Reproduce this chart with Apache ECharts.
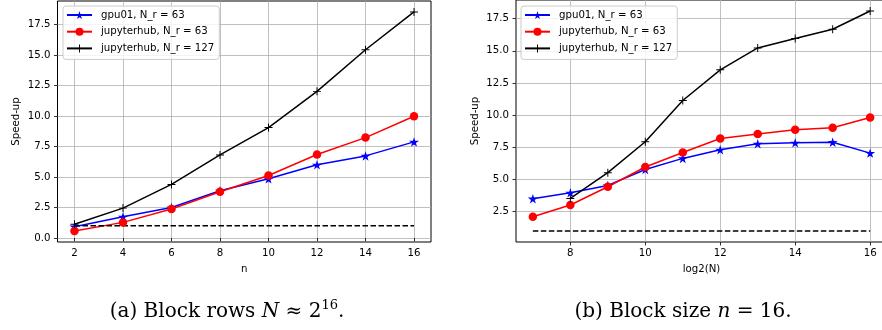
<!DOCTYPE html>
<html>
<head>
<meta charset="utf-8">
<script src="https://cdn.jsdelivr.net/npm/echarts@6/dist/echarts.min.js"></script>
<style>
  html, body { margin: 0; padding: 0; background: #fff; }
  #chart { width: 882px; height: 330px; }
</style>
</head>
<body>
<div id="chart"></div>
<script>
// (a) block rows N ~ 2^16, x = block size n
const nValues = [2, 4, 6, 8, 10, 12, 14, 16]
const gpuLeft = [0.93, 1.74, 2.5, 3.87, 4.85, 6.0, 6.73, 7.88]
const hub63Left = [0.57, 1.28, 2.37, 3.79, 5.12, 6.84, 8.23, 9.98]
const hub127Left = [1.12, 2.45, 4.39, 6.81, 9.05, 12.02, 15.43, 18.53]

// (b) block size n = 16, x = log2(N)
const logN = [7, 8, 9, 10, 11, 12, 13, 14, 15, 16]
const gpuRight = [3.51, 3.97, 4.54, 5.78, 6.64, 7.31, 7.78, 7.85, 7.9, 7.05]
const hub63Right = [2.11, 3.02, 4.44, 5.97, 7.1, 8.19, 8.53, 8.86, 9.02, 9.82]
const logN127 = [8, 9, 10, 11, 12, 13, 14, 15, 16]
const hub127Right = [3.53, 5.53, 7.93, 11.14, 13.52, 15.22, 15.95, 16.67, 18.09]

const baseline = 1

// tick labels
const xTicksLeft = [2, 4, 6, 8, 10, 12, 14, 16]
const yTicksLeft = [0, 2.5, 5, 7.5, 10, 12.5, 15, 17.5]
const xTicksRight = [8, 10, 12, 14, 16]
const yTicksRight = [2.5, 5, 7.5, 10, 12.5, 15, 17.5]

const seriesNames = ['gpu01, N_r = 63', 'jupyterhub, N_r = 63', 'jupyterhub, N_r = 127']

const STAR = 'path://M50,0 L61,35 L98,35 L68,57 L79,91 L50,70 L21,91 L32,57 L2,35 L39,35 Z'
const PLUS = 'path://M0,44 L100,44 L100,56 L0,56 Z M44,0 L56,0 L56,100 L44,100 Z'
const FONT = 'DejaVu Sans'

// matplotlib-like 5% margins
function padExtent (values) {
  let lo = Math.min(...values)
  let hi = Math.max(...values)
  let p = (hi - lo) * 0.05
  return [lo - p, hi + p]
}

const zip = (xs, ys) => xs.map((x, i) => [x, ys[i]])

function valueAxis (gridIndex, ext, ticks, interval, fmt, name, nameGap, isY) {
  return {
    type: 'value',
    gridIndex: gridIndex,
    min: ext[0],
    max: ext[1],
    interval: interval,
    name: name,
    nameLocation: 'middle',
    nameGap: nameGap,
    nameRotate: isY ? 90 : 0,
    nameTextStyle: { fontFamily: FONT, fontSize: 10.2, color: '#000' },
    axisLine: { show: false },
    axisTick: { show: true, customValues: ticks, length: 3.5, lineStyle: { color: '#000', width: 0.8 } },
    axisLabel: {
      customValues: ticks,
      formatter: fmt,
      margin: isY ? 7 : 6,
      fontFamily: FONT,
      fontSize: 10.2,
      color: '#000'
    },
    splitLine: { show: true, lineStyle: { color: '#b0b0b0', width: 0.8 } }
  }
}

function lineSeries (name, data, idx, color, symbol, size) {
  return {
    type: 'line',
    name: name,
    data: data,
    xAxisIndex: idx,
    yAxisIndex: idx,
    color: color,
    symbol: symbol,
    symbolSize: size,
    symbolKeepAspect: true,
    showAllSymbol: true,
    lineStyle: { color: color, width: 1.5 },
    itemStyle: { color: color },
    emphasis: { disabled: true }
  }
}

function dashedSeries (xs, idx) {
  return {
    type: 'line',
    data: [[xs[0], baseline], [xs[xs.length - 1], baseline]],
    xAxisIndex: idx,
    yAxisIndex: idx,
    symbol: 'none',
    lineStyle: { color: '#000', width: 1.5, type: [5.5, 2.5] },
    emphasis: { disabled: true }
  }
}

function legendAt (left) {
  return {
    data: seriesNames,
    orient: 'vertical',
    left: left,
    top: 6,
    itemWidth: 25,
    itemHeight: 10,
    itemGap: 6.7,
    padding: [4, 5, 6, 3],
    borderColor: '#cccccc',
    borderWidth: 1,
    borderRadius: 3,
    backgroundColor: 'rgba(255,255,255,0.8)',
    selectedMode: false,
    textStyle: { fontFamily: FONT, fontSize: 10.2, color: '#000', padding: [0, 0, 0, 4] }
  }
}

const fmt1 = v => Number(v).toFixed(1)
const fmt0 = v => String(v)

const xExtLeft = padExtent(nValues)
const yExtLeft = padExtent([...gpuLeft, ...hub63Left, ...hub127Left, baseline])
const xExtRight = padExtent(logN)
const yExtRight = padExtent([...gpuRight, ...hub63Right, ...hub127Right, baseline])

const captionRich = {
  r: { fontFamily: 'DejaVu Serif', fontSize: 20, color: '#000', lineHeight: 26 },
  i: { fontFamily: 'DejaVu Serif', fontStyle: 'italic', fontSize: 20, color: '#000', lineHeight: 26 },
  s: { fontFamily: 'DejaVu Serif', fontSize: 13, color: '#000', lineHeight: 13, verticalAlign: 'top' }
}

const chart = echarts.init(document.getElementById('chart'), null, { renderer: 'canvas' })
chart.setOption({
  animation: false,
  backgroundColor: '#fff',
  grid: [
    { left: 57.5, right: 451, top: 1, bottom: 88, show: true, borderColor: '#000', borderWidth: 1, backgroundColor: 'transparent', outerBoundsMode: 'none', containLabel: false },
    { left: 516, right: -5, top: 0, bottom: 88, show: true, borderColor: '#000', borderWidth: 1, backgroundColor: 'transparent', outerBoundsMode: 'none', containLabel: false }
  ],
  xAxis: [
    valueAxis(0, xExtLeft, xTicksLeft, 2, fmt0, 'n', 22, false),
    valueAxis(1, xExtRight, xTicksRight, 2, fmt0, 'log2(N)', 22, false)
  ],
  yAxis: [
    valueAxis(0, yExtLeft, yTicksLeft, 2.5, fmt1, 'Speed-up', 36, true),
    valueAxis(1, yExtRight, yTicksRight, 2.5, fmt1, 'Speed-up', 36, true)
  ],
  legend: [legendAt(63), legendAt(521)],
  series: [
    lineSeries(seriesNames[0], zip(nValues, gpuLeft), 0, '#0000ff', STAR, 10),
    lineSeries(seriesNames[1], zip(nValues, hub63Left), 0, '#ff0000', 'circle', 8.5),
    lineSeries(seriesNames[2], zip(nValues, hub127Left), 0, '#000000', PLUS, 8),
    dashedSeries(nValues, 0),
    lineSeries(seriesNames[0], zip(logN, gpuRight), 1, '#0000ff', STAR, 10),
    lineSeries(seriesNames[1], zip(logN, hub63Right), 1, '#ff0000', 'circle', 8.5),
    lineSeries(seriesNames[2], zip(logN127, hub127Right), 1, '#000000', PLUS, 8),
    dashedSeries(logN, 1)
  ],
  graphic: [
    {
      type: 'text',
      x: 227,
      y: 312,
      style: {
        text: '{r|(a) Block rows }{i|N}{r| ≈ 2}{s|16}{r|.}',
        rich: captionRich,
        align: 'center',
        verticalAlign: 'middle'
      }
    },
    {
      type: 'text',
      x: 683,
      y: 312,
      style: {
        text: '{r|(b) Block size }{i|n}{r| = 16.}',
        rich: captionRich,
        align: 'center',
        verticalAlign: 'middle'
      }
    }
  ]
})
</script>
</body>
</html>
